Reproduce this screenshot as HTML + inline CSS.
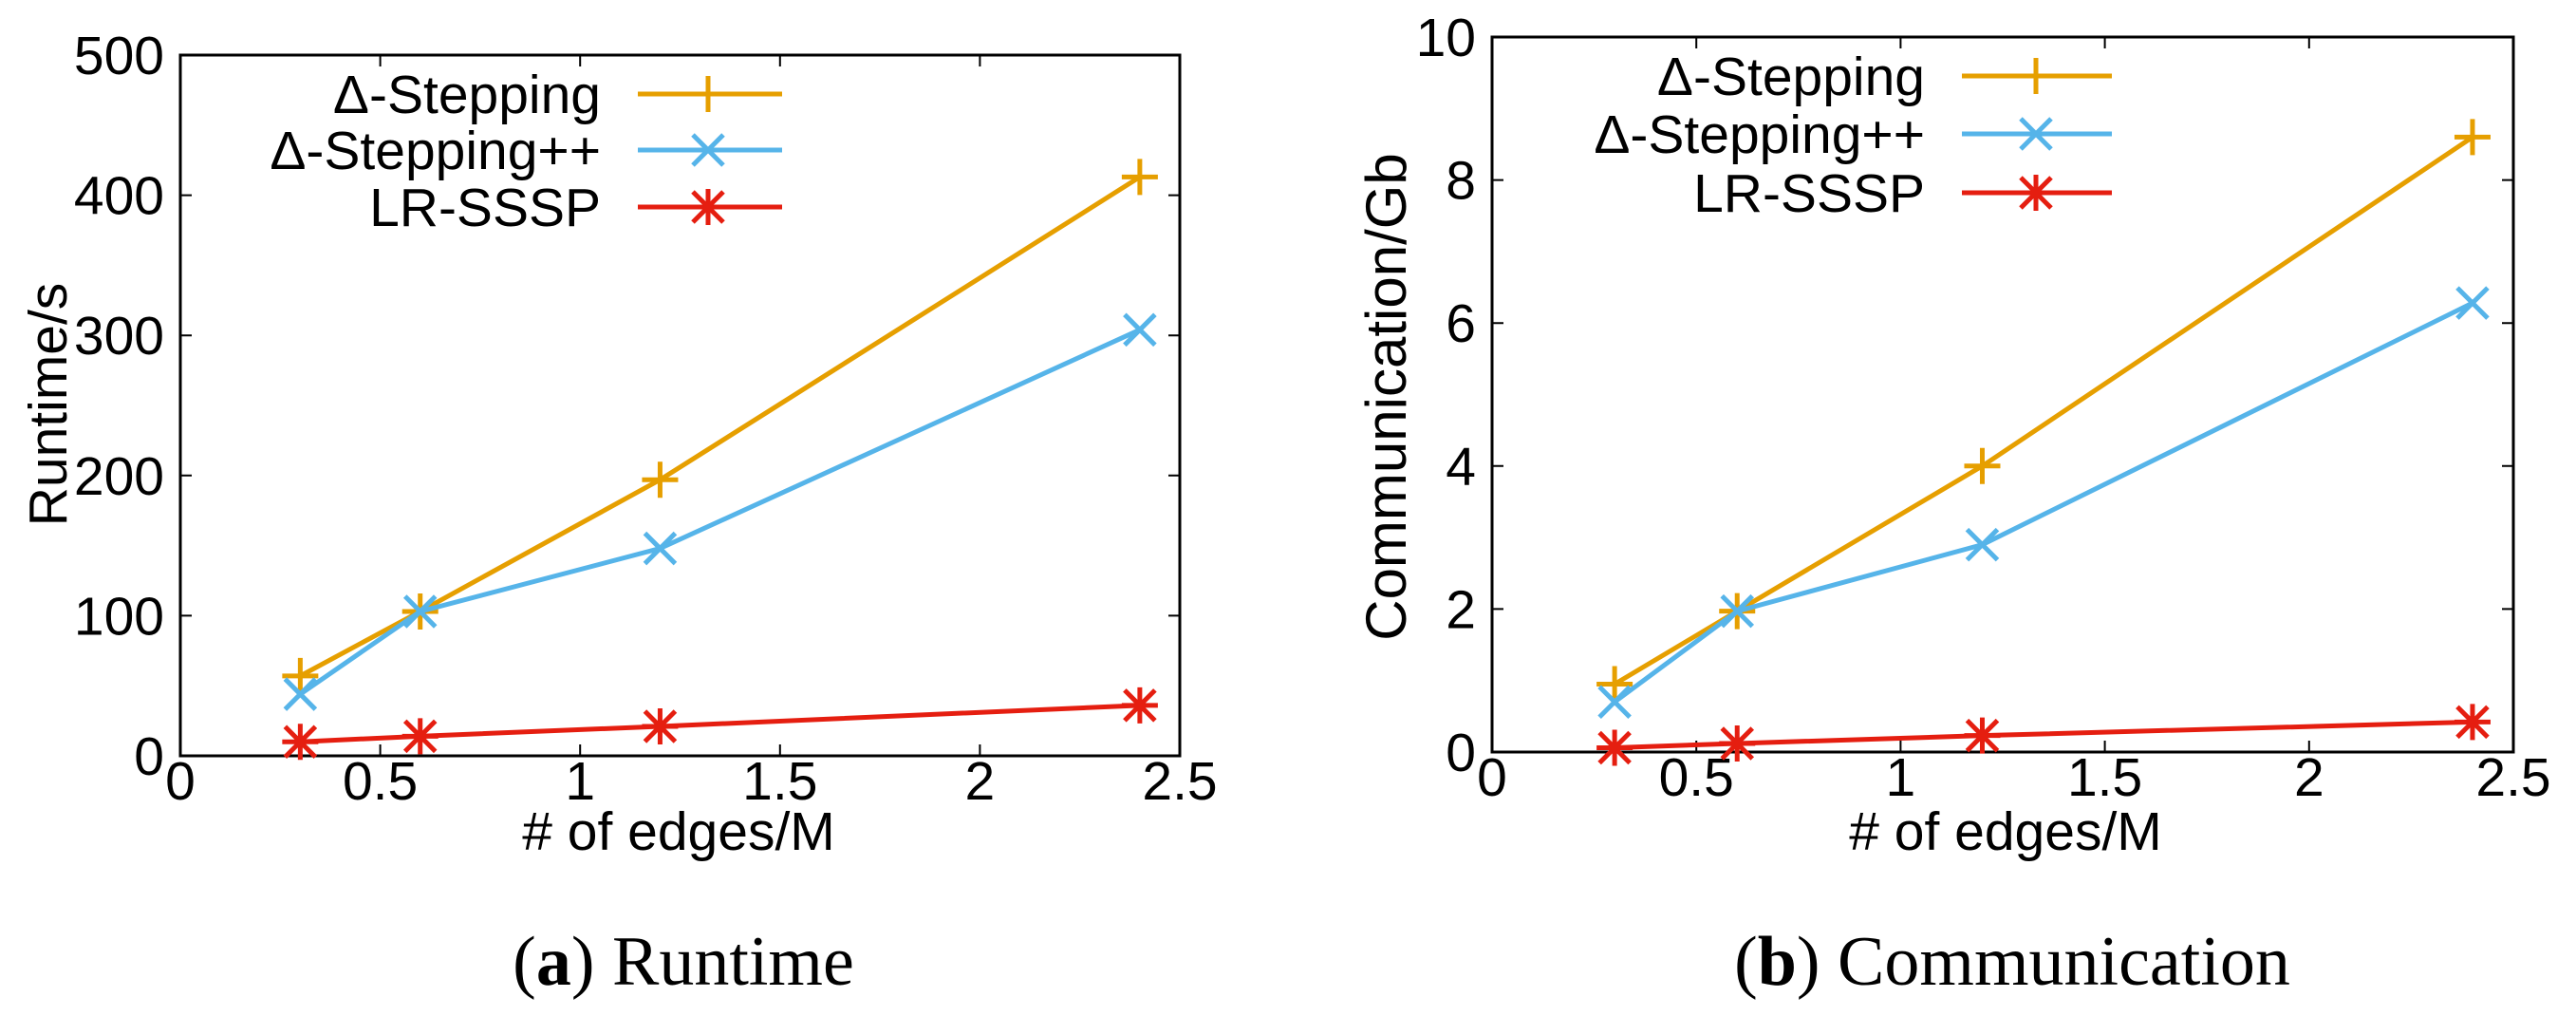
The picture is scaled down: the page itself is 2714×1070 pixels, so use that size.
<!DOCTYPE html>
<html><head><meta charset="utf-8"><style>
body{margin:0;background:#fff;}
svg{display:block;font-family:"Liberation Sans",sans-serif;}
</style></head><body>
<svg id="svg" width="2714" height="1070" viewBox="0 0 2714 1070" xmlns="http://www.w3.org/2000/svg"></svg>
<script>
const xs = [0.3, 0.6, 1.2, 2.4];
const rtDelta = [57, 103, 197, 413];
const rtPlus = [44, 103, 148, 304];
const rtLR = [10, 14, 21, 36];
const cmDelta = [0.95, 1.97, 4.0, 8.6];
const cmPlus = [0.7, 1.97, 2.9, 6.28];
const cmLR = [0.06, 0.12, 0.23, 0.42];
const xTicks = [0, 0.5, 1, 1.5, 2, 2.5];
const xTickLabels = ["0", "0.5", "1", "1.5", "2", "2.5"];
const rtTicks = [0, 100, 200, 300, 400, 500];
const cmTicks = [0, 2, 4, 6, 8, 10];
const seriesNames = ["Δ-Stepping", "Δ-Stepping++", "LR-SSSP"];

const NS = "http://www.w3.org/2000/svg";
const svg = document.getElementById('svg');
function mk(tag, attrs, parent) {
  const e = document.createElementNS(NS, tag);
  for (const k in attrs) e.setAttribute(k, attrs[k]);
  (parent || svg).appendChild(e);
  return e;
}
const colors = ["#e69f00", "#56b4e9", "#e51e10"];

function marker(g, kind, cx, cy, col) {
  const r = 19;
  if (kind === 0) {
    mk('path', {d: `M${cx-r},${cy}H${cx+r}M${cx},${cy-r}V${cy+r}`, stroke: col, 'stroke-width': 5, fill: 'none'}, g);
  } else if (kind === 1) {
    const a = 16;
    mk('path', {d: `M${cx-a},${cy-a}L${cx+a},${cy+a}M${cx-a},${cy+a}L${cx+a},${cy-a}`, stroke: col, 'stroke-width': 5, fill: 'none'}, g);
  } else {
    const a = 16;
    mk('path', {d: `M${cx-r},${cy}H${cx+r}M${cx},${cy-r}V${cy+r}M${cx-a},${cy-a}L${cx+a},${cy+a}M${cx-a},${cy+a}L${cx+a},${cy-a}`, stroke: col, 'stroke-width': 5, fill: 'none'}, g);
  }
}

function chart(cfg) {
  const g = mk('g', {});
  
  
  const {L, R, T, B, ymax, yTicks, series} = cfg;
  const sx = v => L + (v / 2.5) * (R - L);
  const sy = v => B - (v / ymax) * (B - T);
  xTicks.forEach((t, i) => {
    const x = sx(t);
    mk('path', {d: `M${x},${B}v-12M${x},${T}v12`, stroke: '#000', 'stroke-width': 2}, g);
    const tx = mk('text', {x: x, y: B + 46, 'font-size': 57, 'text-anchor': 'middle'}, g);
    tx.textContent = xTickLabels[i];
    
    
  });
  yTicks.forEach(t => {
    const y = sy(t);
    mk('path', {d: `M${L},${y}h12M${R},${y}h-12`, stroke: '#000', 'stroke-width': 2}, g);
    const tx = mk('text', {x: L - 17, y: y + 20, 'font-size': 57, 'text-anchor': 'end'}, g);
    tx.textContent = String(t);
    
    
  });
  const frame = mk('rect', {x: L, y: T, width: R - L, height: B - T, fill: 'none', stroke: '#000', 'stroke-width': 3}, g);
  
  
  series.forEach((vals, si) => {
    const sg = mk('g', {}, g);
    
    
    const pts = vals.map((v, i) => `${sx(xs[i])},${sy(v)}`).join(' ');
    mk('polyline', {points: pts, fill: 'none', stroke: colors[si], 'stroke-width': 5}, sg);
    vals.forEach((v, i) => marker(sg, si, sx(xs[i]), sy(v), colors[si]));
  });
  cfg.legY.forEach((ly, si) => {
    const lg = mk('g', {}, g);
    
    
    const tx = mk('text', {x: cfg.legTextX, y: ly + 20, 'font-size': 57, 'text-anchor': 'end'}, lg);
    tx.textContent = seriesNames[si];
    mk('line', {x1: cfg.legL1, x2: cfg.legL2, y1: ly, y2: ly, stroke: colors[si], 'stroke-width': 5}, lg);
    marker(lg, si, cfg.legM, ly, colors[si]);
  });
  const yt = mk('text', {x: 0, y: 0, 'font-size': cfg.ytSize, 'text-anchor': 'middle', transform: `translate(${cfg.ytX},${cfg.ytY}) rotate(-90)`}, g);
  yt.textContent = cfg.ytitle;
  
  
  const xt = mk('text', {x: cfg.xtX, y: 895, 'font-size': 57, 'text-anchor': 'middle'}, g);
  xt.textContent = '# of edges/M';
  
  
  const cap = mk('text', {x: cfg.capX, y: 1037, 'font-size': 74, 'text-anchor': 'middle', 'font-family': '"Liberation Serif",serif'}, g);
  cap.innerHTML = cfg.caption;
  
  
}

chart({name: 'runtime-chart', L: 190, R: 1243, T: 58, B: 796, ymax: 500, yTicks: rtTicks,
  series: [rtDelta, rtPlus, rtLR], legY: [99, 158, 218], legTextX: 633, legL1: 672, legL2: 824, legM: 746,
  ytitle: 'Runtime/s', ytSize: 57, ytX: 70, ytY: 426, xtX: 715, capX: 720, caption: '(<tspan font-weight="bold">a</tspan>) Runtime'});
chart({name: 'communication-chart', L: 1572, R: 2648, T: 39, B: 792, ymax: 10, yTicks: cmTicks,
  series: [cmDelta, cmPlus, cmLR], legY: [80, 141, 203], legTextX: 2028, legL1: 2067, legL2: 2225, legM: 2145,
  ytitle: 'Communication/Gb', ytSize: 60, ytX: 1481, ytY: 418, xtX: 2113, capX: 2120, caption: '(<tspan font-weight="bold">b</tspan>) Communication'});
</script>
</body></html>
